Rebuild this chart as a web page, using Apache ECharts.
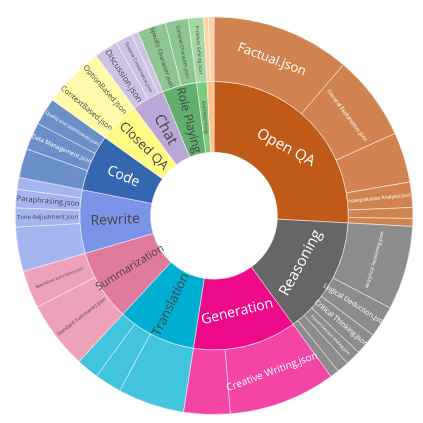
<!DOCTYPE html>
<html>
<head>
<meta charset="utf-8">
<script src="https://cdn.jsdelivr.net/npm/echarts@6/dist/echarts.min.js"></script>
<style>
  html, body { margin: 0; padding: 0; background: #fff; }
  #chart { width: 423px; height: 423px; }
</style>
</head>
<body>
<div id="chart"></div>
<script>
// inner ring, clockwise from 12 o'clock
const categories = ['Open QA', 'Reasoning', 'Generation', 'Translation', 'Summarization', 'Rewrite',
  'Code', 'Closed QA', 'Chat', 'Role Playing', 'Brainstorming', 'Extraction'];

// outer ring: file name, its category, its size
const fileNames = [
  'Factual.json', 'General Explanation.json', 'Comparative Analysis.json', 'Interpretative Analysis.json', 'Opinion.json', 'Definition.json',
  'Analytical Reasoning.json', 'Logical Deduction.json', 'Critical Thinking.json', 'Human Decision Making.json', 'Mathematical Reasoning.json', 'Causal Reasoning.json',
  'Creative Writing.json', 'Story Generation.json',
  'General Translation.json', 'Technical Translation.json', 'Literary Translation.json',
  'Standard Summaries.json', 'Specialized Summaries.json',
  'Style Transfer.json', 'Tone Adjustment.json', 'Paraphrasing.json', 'Simplification.json',
  'Code Generation.json', 'Data Management.json', 'Quality and Optimization.json',
  'ContextBased.json', 'OptionBased.json',
  'Discussion.json', 'General Conversation.json', 'Small Talk.json',
  'Specific Character.json', 'General Character.json',
  'Problem Solving.json',
  'Entity Extraction.json', 'Keyword Extraction.json'
];
const fileCategory = [
  'Open QA', 'Open QA', 'Open QA', 'Open QA', 'Open QA', 'Open QA',
  'Reasoning', 'Reasoning', 'Reasoning', 'Reasoning', 'Reasoning', 'Reasoning',
  'Generation', 'Generation',
  'Translation', 'Translation', 'Translation',
  'Summarization', 'Summarization',
  'Rewrite', 'Rewrite', 'Rewrite', 'Rewrite',
  'Code', 'Code', 'Code',
  'Closed QA', 'Closed QA',
  'Chat', 'Chat', 'Chat',
  'Role Playing', 'Role Playing',
  'Brainstorming',
  'Extraction', 'Extraction'
];
const fileValues = [
  407, 250, 147, 74, 32, 23,
  246, 93, 65, 45, 35, 26,
  314, 136,
  195, 79, 66,
  199, 111,
  130, 56, 54, 35,
  85, 80, 80,
  90, 90,
  70, 50, 20,
  83, 67,
  45,
  14, 16
];

// [inner, outer] fill per category
const ringColors = {
  'Open QA': ['#c05a19', '#d0834f'],
  'Reasoning': ['#666666', '#8c8c8c'],
  'Generation': ['#ec0a88', '#f444a5'],
  'Translation': ['#00aed2', '#42c3de'],
  'Summarization': ['#e07b9d', '#eda2b9'],
  'Rewrite': ['#7b94e8', '#a4b5f0'],
  'Code': ['#3566b0', '#6b8fc8'],
  'Closed QA': ['#fff985', '#fffbab'],
  'Chat': ['#b9a7d7', '#cfc3e4'],
  'Role Playing': ['#62ae6c', '#8dc593'],
  'Brainstorming': ['#7ecb80', '#a3d9a3'],
  'Extraction': ['#ffc18d', '#ffd3aa']
};
const lightText = ['Open QA', 'Reasoning', 'Generation', 'Code'];

// labels that are drawn; everything else stays blank
const labelStyle = {
  'Open QA': { size: 15, rotate: -28 },
  'Reasoning': { size: 15, rotate: 'tangential' },
  'Generation': { size: 14, rotate: 'tangential' },
  'Translation': { size: 13 },
  'Summarization': { size: 11 },
  'Rewrite': { size: 14 },
  'Code': { size: 14 },
  'Closed QA': { size: 13 },
  'Chat': { size: 15 },
  'Role Playing': { size: 12 },
  'Brainstorming': { size: 5 },
  'Factual.json': { size: 13, rotate: 'tangential' },
  'General Explanation.json': { size: 5.5, rotate: 'tangential' },
  'Interpretative Analysis.json': { size: 5 },
  'Analytical Reasoning.json': { size: 5, rotate: 'tangential' },
  'Logical Deduction.json': { size: 7 },
  'Critical Thinking.json': { size: 7 },
  'Human Decision Making.json': { size: 4 },
  'Creative Writing.json': { size: 10, rotate: 'tangential' },
  'Standard Summaries.json': { size: 5 },
  'Specialized Summaries.json': { size: 4 },
  'Tone Adjustment.json': { size: 6 },
  'Paraphrasing.json': { size: 7.5 },
  'Data Management.json': { size: 6 },
  'Quality and Optimization.json': { size: 4.5 },
  'ContextBased.json': { size: 7.5 },
  'OptionBased.json': { size: 7.5 },
  'Discussion.json': { size: 8.5 },
  'General Conversation.json': { size: 4.5 },
  'Specific Character.json': { size: 6 },
  'General Character.json': { size: 5 },
  'Problem Solving.json': { size: 5 }
};

function makeLabel(name, cat) {
  const s = labelStyle[name];
  if (!s) return { show: false };
  return {
    show: true,
    fontSize: s.size,
    rotate: s.rotate === undefined ? 'radial' : s.rotate,
    color: lightText.includes(cat) ? '#ffffff' : '#444444',
    fontFamily: 'Open Sans',
    align: 'center'
  };
}

const data = categories.map(cat => {
  const children = [];
  fileNames.forEach((name, i) => {
    if (fileCategory[i] !== cat) return;
    children.push({
      name: name,
      value: fileValues[i],
      itemStyle: { color: ringColors[cat][1] },
      label: makeLabel(name, cat)
    });
  });
  return {
    name: cat,
    itemStyle: { color: ringColors[cat][0] },
    label: makeLabel(cat, cat),
    children: children
  };
});

const chart = echarts.init(document.getElementById('chart'));
chart.setOption({
  animation: false,
  series: [{
    type: 'sunburst',
    center: ['50.6%', '51%'],
    radius: ['30%', '94%'],
    startAngle: 90,
    sort: null,
    nodeClick: false,
    data: data,
    itemStyle: {
      borderColor: 'rgba(255,255,255,0.45)',
      borderWidth: 1
    },
    levels: [
      {},
      { r0: '30%', r: '63.5%' },
      { r0: '63.5%', r: '94%' }
    ]
  }]
});
</script>
</body>
</html>
